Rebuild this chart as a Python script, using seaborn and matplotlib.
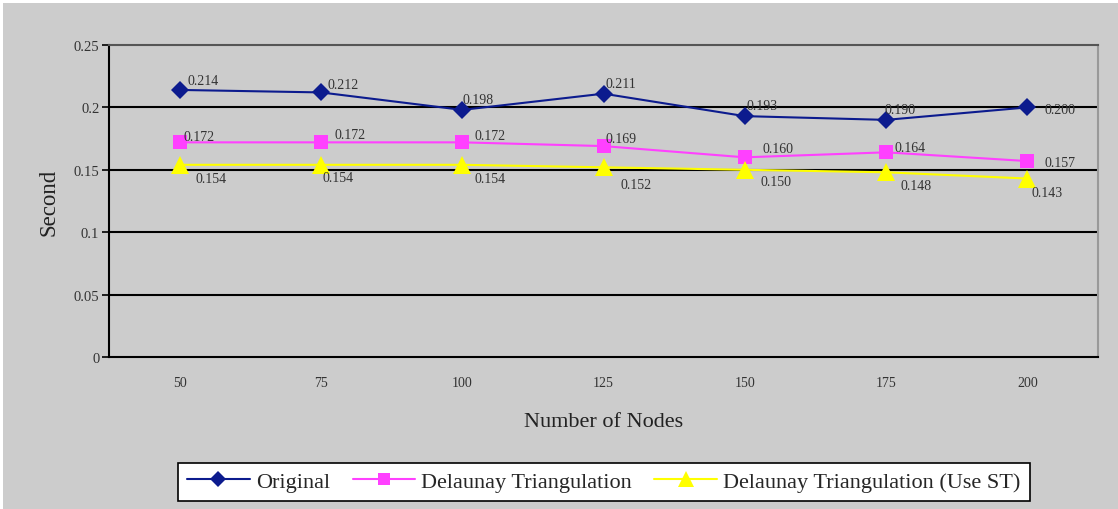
import pandas as pd
import seaborn as sns
import matplotlib.pyplot as plt
from matplotlib.patches import Rectangle

# data
nodes = ['50', '75', '100', '125', '150', '175', '200']
original = [0.214, 0.212, 0.198, 0.211, 0.193, 0.190, 0.200]
delaunay = [0.172, 0.172, 0.172, 0.169, 0.160, 0.164, 0.157]
delaunay_st = [0.154, 0.154, 0.154, 0.152, 0.150, 0.148, 0.143]
series_names = ['Original', 'Delaunay Triangulation', 'Delaunay Triangulation (Use ST)']

# label offsets in pixels (dx, dy) for each series
off_orig = [(8, 9), (7, 8), (0, 10), (2, 10), (2, 11), (-2, 10), (17, -2)]
off_del = [(4, 6), (14, 8), (12, 7), (2, 8), (18, 9), (8, 5), (17, -1)]
off_st = [(16, -14), (2, -13), (12, -14), (17, -17), (16, -12), (14, -13), (4, -14)]

rows = []
for name, vals in zip(series_names, [original, delaunay, delaunay_st]):
    for i, v in enumerate(vals):
        rows.append({'pos': i, 'value': v, 'series': name})
df = pd.DataFrame(rows)

sns.set_style('white')
plt.rcParams['font.family'] = ['Liberation Serif', 'DejaVu Serif']

fig = plt.figure(figsize=(11.18, 5.10), dpi=100, facecolor='white')
fig.patches.append(Rectangle((3 / 1118, 0), 1, 506 / 510, transform=fig.transFigure,
                             facecolor='#cccccc', edgecolor='none', zorder=-10))
ax = fig.add_axes([109 / 1118, 152 / 510, 989 / 1118, 312 / 510])
ax.set_facecolor('#cccccc')

palette = {'Original': '#0c1b8e', 'Delaunay Triangulation': '#ff40ff',
           'Delaunay Triangulation (Use ST)': '#ffff00'}
markers = {'Original': 'D', 'Delaunay Triangulation': 's',
           'Delaunay Triangulation (Use ST)': '^'}
msize = {'Original': 9.5, 'Delaunay Triangulation': 9.5,
         'Delaunay Triangulation (Use ST)': 12.5}
sns.lineplot(data=df, x='pos', y='value', hue='series', style='series',
             palette=palette, markers=markers, dashes=False, markersize=10,
             markeredgewidth=0, linewidth=1.5, ax=ax, legend=False, zorder=3)
for line, name in zip(ax.lines, series_names):
    line.set_markersize(msize[name])

for vals, offs in [(original, off_orig), (delaunay, off_del), (delaunay_st, off_st)]:
    for i, (v, o) in enumerate(zip(vals, offs)):
        ax.annotate(f'{v:.3f}', (i, v), xytext=o, textcoords='offset pixels',
                    ha='left', va='center', fontsize=10, color='#333333', zorder=4)

ax.set_xlim(-0.5, 6.5)
ax.set_ylim(0, 0.25)
ax.set_xticks(range(len(nodes)))
ax.set_xticklabels(nodes, fontsize=10, color='#333333')
ax.set_xticks([i + 0.5 for i in range(-1, 7)], minor=True)
ax.tick_params(axis='x', which='major', length=0, pad=14)
ax.tick_params(axis='x', which='minor', length=5, width=1.2, direction='out', color='black')
ax.set_yticks([0, 0.05, 0.1, 0.15, 0.2, 0.25])
ax.set_yticklabels(['0', '0.05', '0.1', '0.15', '0.2', '0.25'], fontsize=10.5, color='#333333')
ax.tick_params(axis='y', length=5, width=1.2, direction='out', left=True, color='black', pad=2)

for y in [0.05, 0.1, 0.15, 0.2]:
    ax.axhline(y, color='black', lw=1.5, zorder=1)
ax.spines['left'].set_color('black')
ax.spines['left'].set_linewidth(1.5)
ax.spines['bottom'].set_color('black')
ax.spines['bottom'].set_linewidth(1.5)
ax.spines['top'].set_color('#555555')
ax.spines['top'].set_linewidth(1.5)
ax.spines['right'].set_color('#999999')
ax.spines['right'].set_linewidth(1.5)

ax.set_xlabel('Number of Nodes', fontsize=16, color='#222222', labelpad=16)
ax.set_ylabel('Second', fontsize=16.5, color='#222222', labelpad=10)

handles = [plt.Line2D([], [], color=palette[n], marker=markers[n], markersize=msize[n] - 1,
                      markeredgewidth=0, lw=1.5) for n in series_names]
leg = fig.legend(handles, series_names, loc='center', bbox_to_anchor=(604 / 1118, 0.053),
                 ncol=3, fontsize=16, frameon=True, fancybox=False, framealpha=1,
                 facecolor='white', edgecolor='black', handlelength=2.8,
                 columnspacing=1.0, handletextpad=0.3, borderpad=0.4)
leg.get_frame().set_linewidth(1.2)

fig.savefig('out.png', dpi=100, facecolor=fig.get_facecolor())
